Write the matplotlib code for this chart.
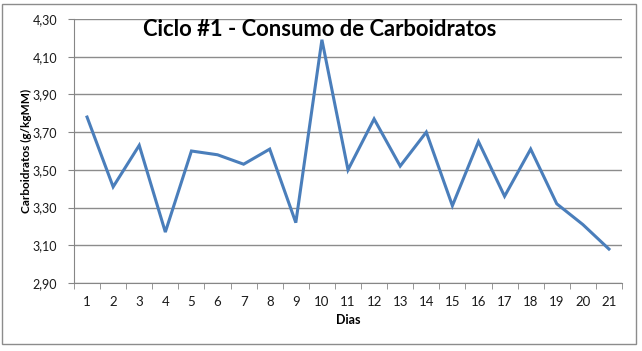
import matplotlib
matplotlib.use("Agg")
import matplotlib.pyplot as plt
from matplotlib.patches import Rectangle
from matplotlib.ticker import FixedLocator, NullFormatter

dias = list(range(1, 22))
valores = [3.78, 3.41, 3.63, 3.17, 3.60, 3.58, 3.53, 3.61, 3.22, 4.19, 3.50,
           3.77, 3.52, 3.70, 3.31, 3.65, 3.36, 3.61, 3.32, 3.21, 3.08]
yticks = [2.90, 3.10, 3.30, 3.50, 3.70, 3.90, 4.10, 4.30]
titulo = "Ciclo #1 - Consumo de Carboidratos"

plt.rcParams['font.family'] = ['Lato', 'DejaVu Sans']

fig = plt.figure(figsize=(6.42, 3.51), dpi=100)
fig.patches.append(Rectangle((2/642, 1 - 344/351), 634/642, 340/351,
                             transform=fig.transFigure, fill=False,
                             edgecolor='#8c8c8c', linewidth=1.0))
ax = fig.add_axes([74/642, 1 - 283/351, 548/642, 264/351])

ax.plot(dias, valores, color='#4a7ebb', linewidth=2.2, solid_joinstyle='miter', zorder=3)

ax.set_xlim(0.5, 21.5)
ax.set_ylim(2.90, 4.30)
ax.set_yticks(yticks)
ax.set_yticklabels([f"{v:.2f}".replace('.', ',') for v in yticks], fontsize=9, color='#1a1a1a')
ax.set_xticks(dias)
ax.set_xticklabels([str(d) for d in dias], fontsize=9.5, color='#1a1a1a')
ax.xaxis.set_minor_locator(FixedLocator([i + 0.5 for i in range(0, 22)]))
ax.xaxis.set_minor_formatter(NullFormatter())
ax.tick_params(axis='x', which='major', length=0, pad=9)
ax.tick_params(axis='x', which='minor', length=4, color='#868686', direction='out')
ax.tick_params(axis='y', length=4, color='#868686', pad=8)

ax.grid(axis='y', color='#8c8c8c', linewidth=1.0)
ax.set_axisbelow(True)
for s in ['top', 'right']:
    ax.spines[s].set_visible(False)
for s in ['left', 'bottom']:
    ax.spines[s].set_color('#868686')

ax.set_xlabel("Dias", fontsize=9, fontweight='bold', labelpad=5)
ax.set_ylabel("Carboidratos (g/kgMM)", fontsize=8.5, fontweight='bold')
ax.yaxis.set_label_coords((32 - 74) / 548, 0.5)

fig.text(320/642, 1 - 30/351, titulo, ha='center', va='center',
         fontsize=15.8, fontweight='bold')

fig.savefig("out.png", dpi=100)
